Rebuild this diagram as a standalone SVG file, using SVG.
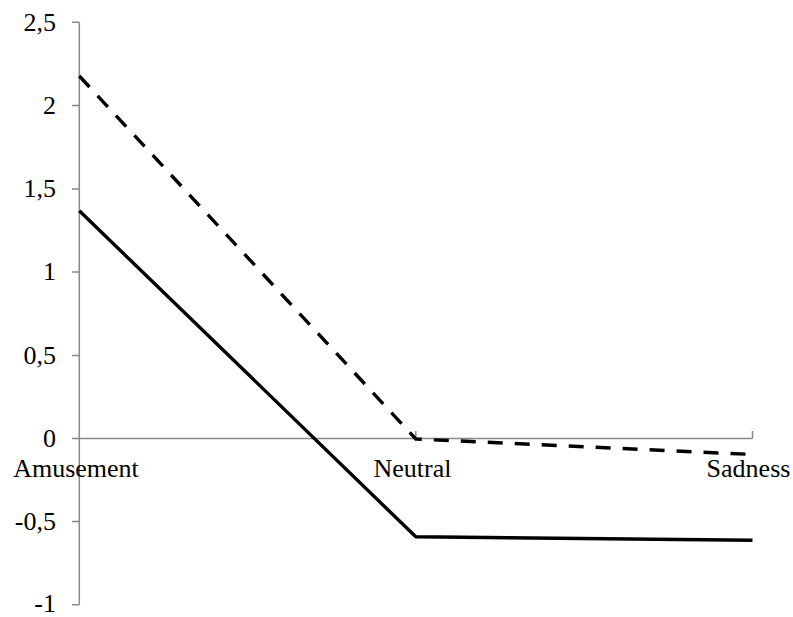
<svg xmlns="http://www.w3.org/2000/svg" width="793" height="617" viewBox="0 0 793 617">
<style>
.ax{stroke:#898989;stroke-width:1.5;fill:none}
text{font-family:'Liberation Serif','Times New Roman','DejaVu Serif',serif;font-size:26px;fill:#000}
.yl{text-anchor:end}
.xl{text-anchor:middle}
.data{fill:none;stroke:#000;stroke-width:3.4;stroke-linejoin:round}
</style>
<rect width="793" height="617" fill="#fff"/>
<g id="axes">
<path class="ax" d="M79.3,22.3V604.7M72,22.3H79.3M72,105.6H79.3M72,188.9H79.3M72,272.1H79.3M72,355.4H79.3M72,438.5H79.3M72,521.6H79.3M72,604.7H79.3"/>
<path class="ax" d="M79.3,438.5H752.5M415.8,431V438.5M752.5,431V438.5"/>
</g>
<g id="y-labels">
<text class="yl" x="56" y="31" font-family="Liberation Serif, serif">2,5</text>
<text class="yl" x="56" y="114" font-family="Liberation Serif, serif">2</text>
<text class="yl" x="56" y="197" font-family="Liberation Serif, serif">1,5</text>
<text class="yl" x="56" y="280" font-family="Liberation Serif, serif">1</text>
<text class="yl" x="56" y="364" font-family="Liberation Serif, serif">0,5</text>
<text class="yl" x="56" y="447" font-family="Liberation Serif, serif">0</text>
<text class="yl" x="56" y="530" font-family="Liberation Serif, serif">-0,5</text>
<text class="yl" x="56" y="612" font-family="Liberation Serif, serif">-1</text>
</g>
<g id="x-labels">
<text class="xl" x="76" y="477" font-family="Liberation Serif, serif">Amusement</text>
<text class="xl" x="412.5" y="477" font-family="Liberation Serif, serif">Neutral</text>
<text class="xl" x="748.5" y="477" font-family="Liberation Serif, serif">Sadness</text>
</g>
<g id="connectors">
<polyline id="solid" class="data" points="79.3,210.7 415.8,536.8 752.5,540.3"/>
<polyline id="dashed" class="data" stroke-dasharray="15 12" points="79.3,76 415.8,439 752.5,454.5"/>
</g>
</svg>
